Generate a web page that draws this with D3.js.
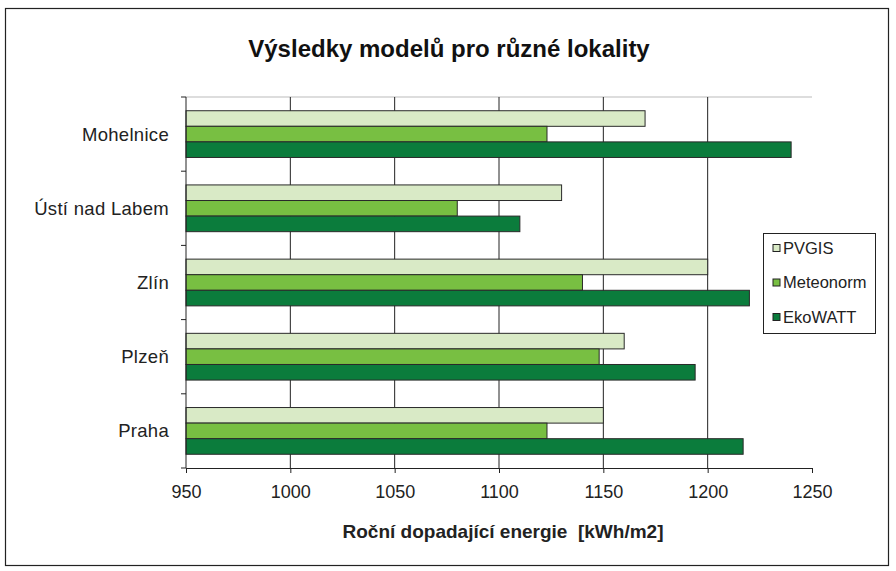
<!DOCTYPE html>
<html>
<head>
<meta charset="utf-8">
<script src="https://cdn.jsdelivr.net/npm/d3@7"></script>
<style>
body { margin: 0; background: #fff; }
text { font-family: Arial, "Liberation Sans", sans-serif; }
</style>
</head>
<body>
<div id="root"></div>
<script>
var categories = ["Mohelnice", "Ústí nad Labem", "Zlín", "Plzeň", "Praha"];
var seriesNames = ["PVGIS", "Meteonorm", "EkoWATT"];
var pvgis = [1170, 1130, 1200, 1160, 1150];
var meteonorm = [1123, 1080, 1140, 1148, 1123];
var ekowatt = [1240, 1110, 1220, 1194, 1217];
var xTicks = [950, 1000, 1050, 1100, 1150, 1200, 1250];
var colors = ["#d9eac6", "#78bf42", "#0b7c3c"];

var W = 896, H = 571;
var margin = {top: 97, right: 84, bottom: 103, left: 186};
var width = W - margin.left - margin.right;
var height = H - margin.top - margin.bottom;

var svg = d3.select("#root").append("svg")
    .attr("width", W)
    .attr("height", H);

// outer frame
svg.append("rect")
    .attr("x", 5.5).attr("y", 8.5)
    .attr("width", 883).attr("height", 557)
    .attr("fill", "#fff")
    .attr("stroke", "#222")
    .attr("stroke-width", 1.2);

svg.append("text")
    .attr("x", 449).attr("y", 57)
    .attr("text-anchor", "middle")
    .attr("font-size", "24px")
    .attr("font-weight", "bold")
    .attr("fill", "#111")
    .text("Výsledky modelů pro různé lokality");

var g = svg.append("g").attr("transform", "translate(" + margin.left + "," + margin.top + ")");

var x = d3.scaleLinear().domain([950, 1250]).range([0, width]);
var y = d3.scaleBand().domain(categories).range([0, height]).paddingInner(0.37).paddingOuter(0.185);
var ySub = d3.scaleBand().domain(seriesNames).range([0, y.bandwidth()]);

// plot top edge
g.append("line")
    .attr("x1", 0).attr("x2", width)
    .attr("y1", 0).attr("y2", 0)
    .attr("stroke", "#bbb");

// gridlines
g.selectAll(".grid")
    .data(xTicks.slice(1, -1))
    .enter()
    .append("line")
    .attr("x1", function(d) { return x(d); })
    .attr("x2", function(d) { return x(d); })
    .attr("y1", 0).attr("y2", height)
    .attr("stroke", "#222")
    .attr("stroke-width", 1);

var data = categories.map(function(c, i) {
    return {cat: c, vals: [pvgis[i], meteonorm[i], ekowatt[i]]};
});

var groups = g.selectAll(".grp")
    .data(data)
    .enter()
    .append("g")
    .attr("transform", function(d) { return "translate(0," + y(d.cat) + ")"; });

groups.selectAll("rect")
    .data(function(d) { return d.vals.map(function(v, j) { return {s: seriesNames[j], v: v, j: j}; }); })
    .enter()
    .append("rect")
    .attr("x", 0)
    .attr("y", function(d) { return ySub(d.s); })
    .attr("width", function(d) { return x(d.v); })
    .attr("height", ySub.bandwidth())
    .attr("fill", function(d) { return colors[d.j]; })
    .attr("stroke", "#2a2a2a")
    .attr("stroke-width", 1);

// x axis
var xAxis = g.append("g")
    .attr("transform", "translate(0," + height + ")")
    .call(d3.axisBottom(x).tickValues(xTicks).tickFormat(d3.format("d")).tickSize(5).tickPadding(12));
xAxis.select(".domain").attr("stroke", "#222");
xAxis.selectAll(".tick line").attr("stroke", "#222");
xAxis.selectAll("text").attr("font-size", "18px").attr("fill", "#222").attr("font-family", "Arial, 'Liberation Sans', sans-serif");

// y axis (ticks between categories)
var yAxis = g.append("g");
yAxis.append("line")
    .attr("x1", 0).attr("x2", 0)
    .attr("y1", 0).attr("y2", height)
    .attr("stroke", "#222");
var step = y.step();
yAxis.selectAll(".yt")
    .data(d3.range(categories.length + 1))
    .enter()
    .append("line")
    .attr("x1", -5).attr("x2", 0)
    .attr("y1", function(i) { return i * step; })
    .attr("y2", function(i) { return i * step; })
    .attr("stroke", "#222");
yAxis.selectAll(".yl")
    .data(categories)
    .enter()
    .append("text")
    .attr("x", -17)
    .attr("y", function(d) { return y(d) + y.bandwidth() / 2; })
    .attr("dy", "0.35em")
    .attr("text-anchor", "end")
    .attr("font-size", "18.5px")
    .attr("letter-spacing", "0.3px")
    .attr("fill", "#222")
    .text(function(d) { return d; });

// axis title
svg.append("text")
    .attr("x", 503).attr("y", 538)
    .attr("text-anchor", "middle")
    .attr("font-size", "19px")
    .attr("font-weight", "bold")
    .attr("fill", "#222")
    .style("white-space", "pre")
    .text("Roční dopadající energie  [kWh/m2]");

// legend
var lg = svg.append("g").attr("transform", "translate(763,233)");
lg.append("rect")
    .attr("x", 0.5).attr("y", 0.5)
    .attr("width", 112).attr("height", 100)
    .attr("fill", "#fff")
    .attr("stroke", "#222");
var items = lg.selectAll(".li")
    .data(seriesNames)
    .enter()
    .append("g")
    .attr("transform", function(d, i) { return "translate(10," + (15 + i * 34.5) + ")"; });
items.append("rect")
    .attr("x", 0).attr("y", -3.5)
    .attr("width", 7).attr("height", 7)
    .attr("fill", function(d, i) { return colors[i]; })
    .attr("stroke", "#222");
items.append("text")
    .attr("x", 10).attr("dy", "0.35em")
    .attr("font-size", "16.5px")
    .attr("fill", "#222")
    .text(function(d) { return d; });
</script>
</body>
</html>
